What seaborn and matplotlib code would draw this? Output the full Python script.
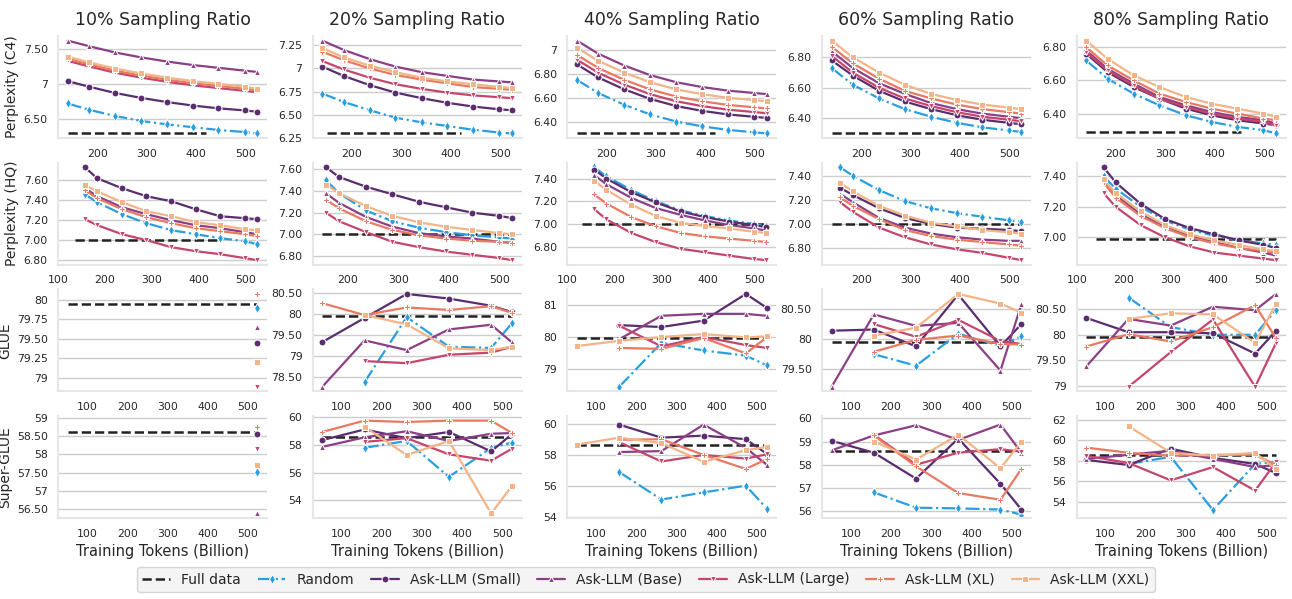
import numpy as np
import pandas as pd
import matplotlib.pyplot as plt
import seaborn as sns
from matplotlib.ticker import MultipleLocator, FuncFormatter

sns.set_theme(style="whitegrid")
plt.rcParams['font.family'] = ['DejaVu Sans']

# Dados
ratios = ["10%", "20%", "40%", "60%", "80%"]
series = ["Random", "Ask-LLM (Small)", "Ask-LLM (Base)", "Ask-LLM (Large)", "Ask-LLM (XL)", "Ask-LLM (XXL)"]
row_labels = ["Perplexity (C4)", "Perplexity (HQ)", "GLUE", "Super-GLUE"]

x_c4 = [140, 183, 236, 288, 341, 393, 445, 498, 524]
x_hq = [157, 183, 236, 288, 341, 393, 445, 498, 524]
x_eval = [52, 157, 262, 367, 472, 524]

c4_10 = {"Random": [6.72, 6.63, 6.54, 6.47, 6.42, 6.38, 6.34, 6.31, 6.29],
         "Ask-LLM (Small)": [7.04, 6.96, 6.87, 6.80, 6.74, 6.69, 6.65, 6.62, 6.60],
         "Ask-LLM (Base)": [7.62, 7.54, 7.45, 7.38, 7.32, 7.27, 7.23, 7.19, 7.17],
         "Ask-LLM (Large)": [7.33, 7.25, 7.16, 7.09, 7.03, 6.98, 6.94, 6.90, 6.88],
         "Ask-LLM (XL)": [7.36, 7.28, 7.19, 7.12, 7.06, 7.01, 6.97, 6.93, 6.91],
         "Ask-LLM (XXL)": [7.39, 7.31, 7.22, 7.15, 7.09, 7.04, 7.00, 6.96, 6.93]}
c4_20 = {"Random": [6.73, 6.64, 6.55, 6.47, 6.42, 6.38, 6.34, 6.31, 6.30],
         "Ask-LLM (Small)": [7.02, 6.92, 6.82, 6.74, 6.68, 6.63, 6.59, 6.56, 6.55],
         "Ask-LLM (Base)": [7.30, 7.20, 7.10, 7.02, 6.96, 6.92, 6.88, 6.86, 6.85],
         "Ask-LLM (Large)": [7.08, 6.99, 6.90, 6.83, 6.78, 6.74, 6.71, 6.69, 6.68],
         "Ask-LLM (XL)": [7.18, 7.09, 7.00, 6.93, 6.88, 6.84, 6.80, 6.78, 6.77],
         "Ask-LLM (XXL)": [7.22, 7.12, 7.03, 6.96, 6.90, 6.86, 6.83, 6.80, 6.79]}
c4_40 = {"Random": [6.75, 6.64, 6.54, 6.46, 6.40, 6.36, 6.33, 6.31, 6.30],
         "Ask-LLM (Small)": [6.88, 6.77, 6.67, 6.59, 6.53, 6.49, 6.46, 6.44, 6.43],
         "Ask-LLM (Base)": [7.08, 6.97, 6.87, 6.79, 6.73, 6.69, 6.66, 6.64, 6.63],
         "Ask-LLM (Large)": [6.92, 6.81, 6.71, 6.63, 6.57, 6.53, 6.50, 6.48, 6.47],
         "Ask-LLM (XL)": [6.96, 6.85, 6.75, 6.67, 6.61, 6.57, 6.54, 6.52, 6.51],
         "Ask-LLM (XXL)": [7.02, 6.91, 6.81, 6.73, 6.67, 6.63, 6.60, 6.58, 6.57]}
c4_60 = {"Random": [6.73, 6.62, 6.53, 6.46, 6.41, 6.37, 6.34, 6.32, 6.31],
         "Ask-LLM (Small)": [6.78, 6.68, 6.58, 6.51, 6.46, 6.42, 6.39, 6.37, 6.36],
         "Ask-LLM (Base)": [6.84, 6.73, 6.63, 6.56, 6.50, 6.46, 6.43, 6.41, 6.40],
         "Ask-LLM (Large)": [6.81, 6.70, 6.60, 6.53, 6.48, 6.44, 6.41, 6.39, 6.38],
         "Ask-LLM (XL)": [6.87, 6.76, 6.66, 6.58, 6.53, 6.49, 6.46, 6.44, 6.43],
         "Ask-LLM (XXL)": [6.91, 6.80, 6.70, 6.62, 6.56, 6.52, 6.49, 6.47, 6.46]}
c4_80 = {"Random": [6.72, 6.61, 6.52, 6.45, 6.39, 6.35, 6.32, 6.30, 6.28],
         "Ask-LLM (Small)": [6.76, 6.65, 6.56, 6.49, 6.43, 6.39, 6.36, 6.34, 6.33],
         "Ask-LLM (Base)": [6.78, 6.67, 6.58, 6.50, 6.45, 6.41, 6.38, 6.36, 6.34],
         "Ask-LLM (Large)": [6.77, 6.66, 6.57, 6.49, 6.44, 6.40, 6.37, 6.35, 6.33],
         "Ask-LLM (XL)": [6.80, 6.69, 6.60, 6.52, 6.47, 6.43, 6.40, 6.37, 6.36],
         "Ask-LLM (XXL)": [6.84, 6.73, 6.63, 6.56, 6.50, 6.46, 6.43, 6.40, 6.38]}

hq_10 = {"Random": [7.46, 7.38, 7.26, 7.17, 7.10, 7.06, 7.02, 6.99, 6.96],
         "Ask-LLM (Small)": [7.73, 7.62, 7.52, 7.44, 7.39, 7.31, 7.24, 7.22, 7.21],
         "Ask-LLM (Base)": [7.52, 7.44, 7.33, 7.26, 7.20, 7.15, 7.12, 7.08, 7.06],
         "Ask-LLM (Large)": [7.21, 7.15, 7.06, 7.00, 6.93, 6.89, 6.86, 6.82, 6.80],
         "Ask-LLM (XL)": [7.50, 7.42, 7.31, 7.23, 7.17, 7.12, 7.09, 7.06, 7.04],
         "Ask-LLM (XXL)": [7.55, 7.49, 7.38, 7.29, 7.24, 7.18, 7.15, 7.11, 7.10]}
hq_20 = {"Random": [7.50, 7.38, 7.22, 7.12, 7.06, 7.02, 6.99, 6.97, 6.96],
         "Ask-LLM (Small)": [7.62, 7.53, 7.44, 7.37, 7.30, 7.25, 7.20, 7.17, 7.15],
         "Ask-LLM (Base)": [7.38, 7.29, 7.16, 7.07, 7.01, 6.98, 6.96, 6.93, 6.92],
         "Ask-LLM (Large)": [7.20, 7.12, 7.02, 6.93, 6.88, 6.84, 6.81, 6.78, 6.76],
         "Ask-LLM (XL)": [7.32, 7.24, 7.12, 7.04, 6.99, 6.96, 6.94, 6.93, 6.92],
         "Ask-LLM (XXL)": [7.46, 7.38, 7.26, 7.17, 7.11, 7.07, 7.04, 7.01, 7.00]}
hq_40 = {"Random": [7.50, 7.42, 7.30, 7.20, 7.12, 7.07, 7.03, 7.00, 6.98],
         "Ask-LLM (Small)": [7.48, 7.40, 7.28, 7.19, 7.11, 7.06, 7.02, 6.99, 6.97],
         "Ask-LLM (Base)": [7.43, 7.35, 7.23, 7.14, 7.08, 7.03, 6.99, 6.96, 6.94],
         "Ask-LLM (Large)": [7.13, 7.04, 6.92, 6.84, 6.78, 6.75, 6.72, 6.69, 6.68],
         "Ask-LLM (XL)": [7.26, 7.18, 7.06, 6.98, 6.92, 6.89, 6.87, 6.85, 6.84],
         "Ask-LLM (XXL)": [7.38, 7.30, 7.17, 7.07, 7.01, 6.98, 6.96, 6.93, 6.92]}
hq_60 = {"Random": [7.47, 7.40, 7.28, 7.19, 7.13, 7.09, 7.06, 7.03, 7.02],
         "Ask-LLM (Small)": [7.30, 7.24, 7.13, 7.05, 7.00, 6.97, 6.96, 6.95, 6.94],
         "Ask-LLM (Base)": [7.25, 7.18, 7.05, 6.97, 6.92, 6.89, 6.87, 6.86, 6.86],
         "Ask-LLM (Large)": [7.18, 7.10, 6.97, 6.89, 6.83, 6.79, 6.76, 6.72, 6.70],
         "Ask-LLM (XL)": [7.22, 7.15, 7.04, 6.95, 6.90, 6.87, 6.85, 6.83, 6.82],
         "Ask-LLM (XXL)": [7.34, 7.27, 7.15, 7.07, 7.01, 6.98, 6.95, 6.93, 6.92]}
hq_80 = {"Random": [7.40, 7.32, 7.20, 7.11, 7.05, 7.01, 6.98, 6.96, 6.95],
         "Ask-LLM (Small)": [7.46, 7.36, 7.22, 7.12, 7.06, 7.02, 6.98, 6.95, 6.93],
         "Ask-LLM (Base)": [7.38, 7.28, 7.15, 7.07, 7.01, 6.97, 6.93, 6.90, 6.88],
         "Ask-LLM (Large)": [7.29, 7.20, 7.08, 7.00, 6.94, 6.90, 6.88, 6.86, 6.85],
         "Ask-LLM (XL)": [7.36, 7.26, 7.14, 7.06, 7.00, 6.96, 6.93, 6.91, 6.90],
         "Ask-LLM (XXL)": [7.38, 7.29, 7.17, 7.08, 7.02, 6.98, 6.95, 6.92, 6.91]}

N = None
glue_10 = {"Random": [N, N, N, N, N, 79.90],
           "Ask-LLM (Small)": [N, N, N, N, N, 79.45],
           "Ask-LLM (Base)": [N, N, N, N, N, 79.65],
           "Ask-LLM (Large)": [N, N, N, N, N, 78.88],
           "Ask-LLM (XL)": [N, N, N, N, N, 80.08],
           "Ask-LLM (XXL)": [N, N, N, N, N, 79.20]}
glue_20 = {"Random": [N, 78.38, 79.92, 79.22, 79.19, 79.78],
           "Ask-LLM (Small)": [79.33, 79.90, 80.47, 80.36, 80.19, 80.04],
           "Ask-LLM (Base)": [78.27, 79.37, 79.14, 79.63, 79.74, 79.32],
           "Ask-LLM (Large)": [N, 78.88, 78.83, 79.03, 79.08, 79.22],
           "Ask-LLM (XL)": [80.25, 79.97, 80.15, 80.09, 80.18, 80.02],
           "Ask-LLM (XXL)": [N, 79.97, 79.75, 79.18, 79.14, 79.22]}
glue_40 = {"Random": [N, 78.44, 79.81, 79.57, 79.41, 79.11],
           "Ask-LLM (Small)": [N, 80.36, 80.30, 80.50, 81.33, 80.90],
           "Ask-LLM (Base)": [N, 79.92, 80.65, 80.71, 80.71, 80.65],
           "Ask-LLM (Large)": [N, 80.34, 79.70, 79.99, 79.74, 79.65],
           "Ask-LLM (XL)": [N, 79.65, 79.62, 79.96, 79.48, 79.98],
           "Ask-LLM (XXL)": [79.71, 79.87, 79.99, 80.08, 79.98, 80.01]}
glue_60 = {"Random": [N, 79.75, 79.56, 80.09, 79.89, 80.05],
           "Ask-LLM (Small)": [80.14, 80.16, 79.88, 80.74, 79.88, 80.25],
           "Ask-LLM (Base)": [79.21, 80.41, 80.22, 80.27, 79.48, 80.58],
           "Ask-LLM (Large)": [N, 80.25, 80.04, 80.32, 79.97, 79.92],
           "Ask-LLM (XL)": [N, 79.79, 79.99, 80.06, 79.92, 79.91],
           "Ask-LLM (XXL)": [N, 80.06, 80.19, 80.75, 80.59, 80.44]}
glue_80 = {"Random": [N, 80.73, 80.15, 80.00, 80.00, 80.49],
           "Ask-LLM (Small)": [80.33, 80.05, 80.05, 80.03, 79.63, 80.08],
           "Ask-LLM (Base)": [79.38, 80.31, 80.18, 80.55, 80.48, 80.80],
           "Ask-LLM (Large)": [N, 78.98, 79.66, 80.30, 78.98, 79.84],
           "Ask-LLM (XL)": [79.77, 80.01, 79.87, 80.15, 80.58, 79.93],
           "Ask-LLM (XXL)": [N, 80.31, 80.42, 80.40, 79.84, 80.61]}

sglue_10 = {"Random": [N, N, N, N, N, 57.52],
            "Ask-LLM (Small)": [N, N, N, N, N, 58.55],
            "Ask-LLM (Base)": [N, N, N, N, N, 56.40],
            "Ask-LLM (Large)": [N, N, N, N, N, 58.15],
            "Ask-LLM (XL)": [N, N, N, N, N, 58.75],
            "Ask-LLM (XXL)": [N, N, N, N, N, 57.70]}
sglue_20 = {"Random": [N, 57.80, 58.30, 55.70, 57.80, 58.18],
            "Ask-LLM (Small)": [58.36, 59.13, 58.50, 58.95, 57.54, 58.80],
            "Ask-LLM (Base)": [57.87, 58.56, 59.00, 58.30, 58.82, 58.87],
            "Ask-LLM (Large)": [N, 58.23, 58.50, 57.33, 56.87, 57.74],
            "Ask-LLM (XL)": [58.95, 59.77, 59.67, 59.77, 59.77, 58.87],
            "Ask-LLM (XXL)": [N, 59.33, 57.28, 58.30, 53.05, 55.05]}
sglue_40 = {"Random": [N, 56.88, 55.10, 55.56, 56.00, 54.52],
            "Ask-LLM (Small)": [N, 59.94, 59.10, 59.23, 59.00, 58.06],
            "Ask-LLM (Base)": [N, 58.17, 58.23, 59.94, 58.44, 57.35],
            "Ask-LLM (Large)": [N, 58.81, 57.56, 57.98, 57.75, 58.02],
            "Ask-LLM (XL)": [N, 58.96, 59.00, 57.98, 57.08, 57.71],
            "Ask-LLM (XXL)": [58.65, 59.10, 58.75, 57.54, 58.29, 58.50]}
sglue_60 = {"Random": [N, 56.81, 56.15, 56.12, 56.07, 55.85],
            "Ask-LLM (Small)": [59.03, 58.52, 57.40, 59.13, 57.18, 56.07],
            "Ask-LLM (Base)": [58.62, 59.26, 59.70, 59.07, 59.73, 58.52],
            "Ask-LLM (Large)": [N, 59.29, 58.00, 58.52, 58.67, 58.56],
            "Ask-LLM (XL)": [N, 59.26, 57.93, 56.78, 56.49, 57.82],
            "Ask-LLM (XXL)": [N, 59.00, 58.22, 59.29, 57.85, 58.99]}
sglue_80 = {"Random": [N, 57.70, 58.40, 53.20, 57.70, 57.90],
            "Ask-LLM (Small)": [58.10, 57.60, 59.20, 58.30, 57.70, 56.80],
            "Ask-LLM (Base)": [58.20, 58.60, 59.00, 58.20, 57.40, 57.60],
            "Ask-LLM (Large)": [58.50, 57.80, 56.10, 57.40, 55.10, 57.90],
            "Ask-LLM (XL)": [59.30, 58.80, 58.50, 58.60, 58.60, 57.60],
            "Ask-LLM (XXL)": [N, 61.40, 58.80, 58.50, 58.80, 57.20]}

# Full data (valor, início, fim)
full_c4 = [(6.30, 140, 420), (6.30, 150, 420), (6.30, 140, 420), (6.30, 140, 460), (6.29, 140, 460)]
full_hq = [(7.00, 135, 445), (7.00, 150, 524), (7.00, 130, 524), (7.00, 140, 524), (6.99, 140, 524)]
full_glue = [(79.95, 52, 524)] * 5
full_sglue = [(58.60, 52, 524)] * 5

linhas = [
    (x_c4, [c4_10, c4_20, c4_40, c4_60, c4_80], full_c4, [0.5, 0.25, 0.2, 0.2, 0.2]),
    (x_hq, [hq_10, hq_20, hq_40, hq_60, hq_80], full_hq, [0.2, 0.2, 0.2, 0.2, 0.2]),
    (x_eval, [glue_10, glue_20, glue_40, glue_60, glue_80], full_glue, [0.25, 0.5, 1, 0.5, 0.5]),
    (x_eval, [sglue_10, sglue_20, sglue_40, sglue_60, sglue_80], full_sglue, [0.5, 2, 2, 1, 2]),
]

# limites do eixo y que o automático não acerta
ylims = {(3, 0): (56.25, 59.05), (3, 2): (53.9, 60.5), (3, 3): (55.7, 60.1), (3, 4): (52.4, 62.4)}

# Estilo
cores = {"Random": "#2a9fe0", "Ask-LLM (Small)": "#5a2d6e", "Ask-LLM (Base)": "#8c3f86",
         "Ask-LLM (Large)": "#c4466c", "Ask-LLM (XL)": "#ea7962", "Ask-LLM (XXL)": "#f3b487"}
marcadores = {"Random": "d", "Ask-LLM (Small)": "o", "Ask-LLM (Base)": "^",
              "Ask-LLM (Large)": "v", "Ask-LLM (XL)": "P", "Ask-LLM (XXL)": "s"}


def formatar(keep_zero):
    def f(v, pos):
        s = f"{v:.2f}"
        if s.endswith(".00") and not keep_zero:
            s = s[:-3]
        return s
    return FuncFormatter(f)


fig, axes = plt.subplots(4, 5, figsize=(12.92, 5.99), dpi=100)
plt.subplots_adjust(left=0.045, right=0.995, top=0.94, bottom=0.135, wspace=0.22, hspace=0.24)

for r, (xs, paineis, fulls, passos) in enumerate(linhas):
    for c, painel in enumerate(paineis):
        ax = axes[r, c]
        val, x0, x1 = fulls[c]
        sns.lineplot(x=[x0, x1], y=[val, val], ax=ax, color="#222222", linestyle="--",
                     lw=1.8, label="Full data", legend=False)
        for nome in series:
            s = pd.Series(painel[nome], index=xs, dtype=float).dropna()
            sns.lineplot(x=s.index, y=s.values, ax=ax, color=cores[nome],
                         marker=marcadores[nome], markersize=5, lw=1.6,
                         linestyle="-." if nome == "Random" else "-",
                         label=nome, legend=False)
        ax.yaxis.set_major_locator(MultipleLocator(passos[c]))
        ax.yaxis.set_major_formatter(formatar(r == 1))
        ax.xaxis.set_major_locator(MultipleLocator(100))
        ax.tick_params(labelsize=7.8, pad=1.5)
        ax.grid(axis="x", visible=False)
        ax.set_xlabel("")
        ax.set_ylabel("")
        if (r, c) in ylims:
            ax.set_ylim(*ylims[(r, c)])
        if r == 1 and c in (0, 2, 4):
            ax.set_xlim(100, 545)
        if r == 0:
            ax.set_title(f"{ratios[c]} Sampling Ratio", fontsize=12.5, pad=8)
        if c == 0:
            ax.set_ylabel(row_labels[r], fontsize=10, labelpad=3)
        if r == 3:
            ax.set_xlabel("Training Tokens (Billion)", fontsize=10.5)
        for lado in ["top", "right"]:
            ax.spines[lado].set_visible(False)
        for lado in ["left", "bottom"]:
            ax.spines[lado].set_color("#e6e6e6")
            ax.spines[lado].set_linewidth(1.5)

handles, labels = axes[1, 1].get_legend_handles_labels()
fig.legend(handles, labels, loc="lower center", ncol=7, fontsize=10,
           bbox_to_anchor=(0.5, 0.0), frameon=True, facecolor="#f2f2f2",
           edgecolor="#cccccc", handlelength=2.0, columnspacing=1.2)

fig.savefig("out.png", dpi=100)
